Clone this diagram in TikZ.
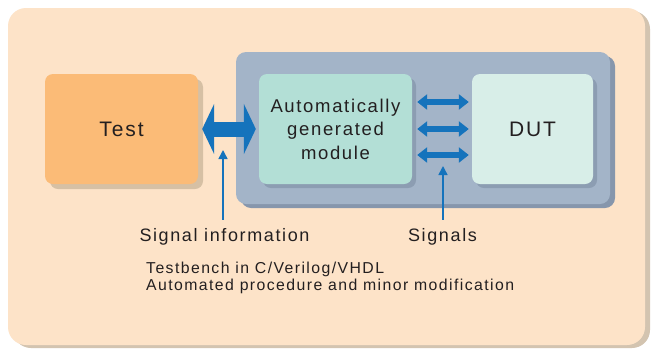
\documentclass[tikz,border=0pt]{standalone}
\usepackage{fontspec}
\setmainfont[LetterSpace=9]{Liberation Sans}
\usetikzlibrary{arrows.meta, shadows}

\definecolor{peach}{HTML}{FDE3C8}
\definecolor{peachshadow}{HTML}{D3C4B0}
\definecolor{testfill}{HTML}{FBBB77}
\definecolor{testshadow}{HTML}{D6C0A4}
\definecolor{boxfill}{HTML}{A3B4C8}
\definecolor{boxshadow}{HTML}{8696AC}
\definecolor{modfill}{HTML}{B3DFD6}
\definecolor{modshadow}{HTML}{8C9DB2}
\definecolor{dutfill}{HTML}{D8EEE8}
\definecolor{arrowblue}{HTML}{1573BC}
\definecolor{txt}{HTML}{231F20}

\begin{document}
\begin{tikzpicture}[x=1pt, y=-1pt,
    every block/.style={rounded corners=8pt, inner sep=0pt, align=center, text=txt},
    bigarrow/.style={draw=arrowblue, line width=15pt, {Triangle[length=12pt, width=50pt]}-{Triangle[length=12pt, width=50pt]}},
    sigarrow/.style={draw=arrowblue, line width=6pt, {Triangle[length=10pt, width=15pt]}-{Triangle[length=10pt, width=15pt]}},
    pointer/.style={draw=arrowblue, line width=1.5pt, -{Triangle[length=9pt, width=9pt]}},
    label/.style={text=txt, inner sep=0pt}]

    \useasboundingbox[fill=white] (0,0) rectangle (651,349);

    % Background frame
    \node[rounded corners=18pt, inner sep=0pt, fill=peach, minimum width=637pt, minimum height=337pt,
          general shadow={fill=peachshadow, shadow xshift=5pt, shadow yshift=-3pt}] (frame) at (326.5,176.5) {};

    % Testbench container
    \node[rounded corners=10pt, inner sep=0pt, fill=boxfill, minimum width=374pt, minimum height=152pt,
          general shadow={fill=boxshadow, shadow xshift=5pt, shadow yshift=-4pt}] (bench) at (423,128) {};

    % Blocks
    \node[every block, fill=testfill, minimum width=153pt, minimum height=110pt,
          general shadow={fill=testshadow, shadow xshift=5pt, shadow yshift=-5pt},
          font=\fontsize{21}{25}\selectfont] (test) at (121.5,129) {Test};
    \node[every block, fill=modfill, minimum width=153pt, minimum height=110pt,
          general shadow={fill=modshadow, shadow xshift=4pt, shadow yshift=-4pt},
          font=\fontsize{18.5}{23.5}\selectfont] (module) at (335.5,129) {Automatically\\generated\\module};
    \node[every block, fill=dutfill, minimum width=121pt, minimum height=110pt,
          general shadow={fill=modshadow, shadow xshift=4pt, shadow yshift=-4pt},
          font=\fontsize{21}{25}\selectfont] (dut) at (532.5,129) {DUT};

    % Arrows between blocks
    \draw[bigarrow] ([xshift=4pt]test.east) -- ([xshift=-3pt]module.west);
    \foreach \dy in {-27, 0, 26}
        \draw[sigarrow] ([xshift=5pt, yshift=-\dy pt]module.east) -- ([xshift=-3pt, yshift=-\dy pt]dut.west);

    % Labels
    \node[label, anchor=base, font=\fontsize{18}{22}\selectfont] (siginfo) at (224.5,241) {Signal information};
    \node[label, anchor=base, font=\fontsize{18}{22}\selectfont] (signals) at (442.5,241) {Signals};
    \node[label, anchor=north west, align=left, font=\fontsize{15.8}{17}\selectfont] (note) at (146,262)
        {Testbench in C/Verilog/VHDL\\Automated procedure and minor modification};

    \coordinate (infotip) at (223,150);
    \coordinate (sigtip) at (443,166);
    \draw[pointer] ([yshift=8pt]siginfo.north -| infotip) -- (infotip);
    \draw[pointer] ([yshift=8pt]signals.north -| sigtip) -- (sigtip);

\end{tikzpicture}
\end{document}
